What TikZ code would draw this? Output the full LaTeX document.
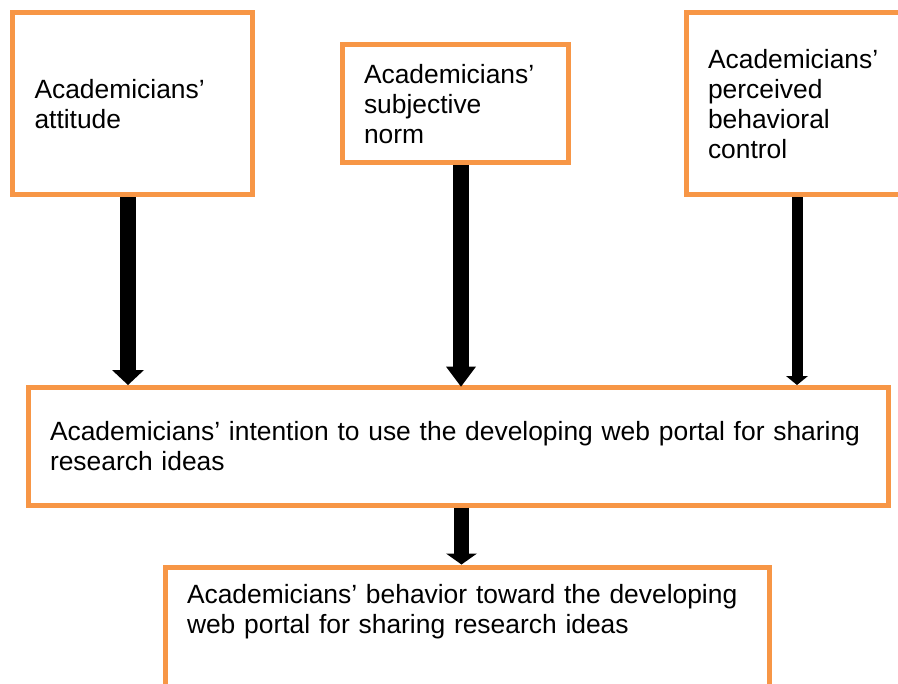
\documentclass[tikz,border=0pt]{standalone}
\usepackage{fontspec}
\setmainfont{Liberation Sans}
\usepackage{xcolor}
\usetikzlibrary{arrows.meta,positioning,calc}
\definecolor{boxorange}{HTML}{F79646}

\begin{document}
\begin{tikzpicture}[x=0.5pt,y=-0.5pt]
			\tikzstyle{every node}=[font=\fontsize{13.2}{15}\selectfont]
			\tikzstyle{construct}=[draw=boxorange, line width=2.5pt, anchor=north west, align=left, inner xsep=11pt, inner ysep=0pt]
			\tikzstyle{influence}=[line width=8pt]
			\useasboundingbox (0,0) rectangle (898,684);
			\clip (0,0) rectangle (898,684);
			\node [construct, text width=98pt, minimum height=91pt] (att) at (10,10.5) {Academicians'\\attitude};
			\node [construct, text width=91pt, minimum height=58.75pt] (norm) at (339.5,42.5) {Academicians'\\subjective\\norm};
			\node [construct, text width=98pt, minimum height=91pt] (pbc) at (683.5,10.5) {Academicians'\\perceived\\behavioral\\control};
			\node [construct, text width=408pt, minimum height=58.75pt] (int) at (25.5,385) {Academicians' intention to use the developing web portal for sharing\\research ideas};
			\node [construct, text width=280pt, text height=18.25pt, text depth=100pt] (beh) at (162.5,564.5) {Academicians' behavior toward the developing\\web portal for sharing research ideas};
			\draw [influence, -{Triangle[width=16pt,length=7.5pt,line width=0pt]}] ([xshift=-2.25pt]att.south) -- ([xshift=-2.25pt]att.south |- int.north);
			\draw [influence, line width=8.25pt, -{Triangle[width=15pt,length=10pt,line width=0pt]}] ([xshift=3pt]norm.south) -- ([xshift=3pt,yshift=-0.8pt]norm.south |- int.north);
			\draw [influence, line width=5.5pt, -{Triangle[width=11pt,length=4.5pt,line width=0pt]}] ([xshift=-4.5pt]pbc.south) -- ([xshift=-4.5pt]pbc.south |- int.north);
			\draw [influence, line width=7.5pt, -{Triangle[width=15.5pt,length=5.5pt,line width=0pt]}] ([xshift=1.75pt]int.south) -- ([xshift=1.75pt]int.south |- beh.north);
		\end{tikzpicture}
\end{document}
